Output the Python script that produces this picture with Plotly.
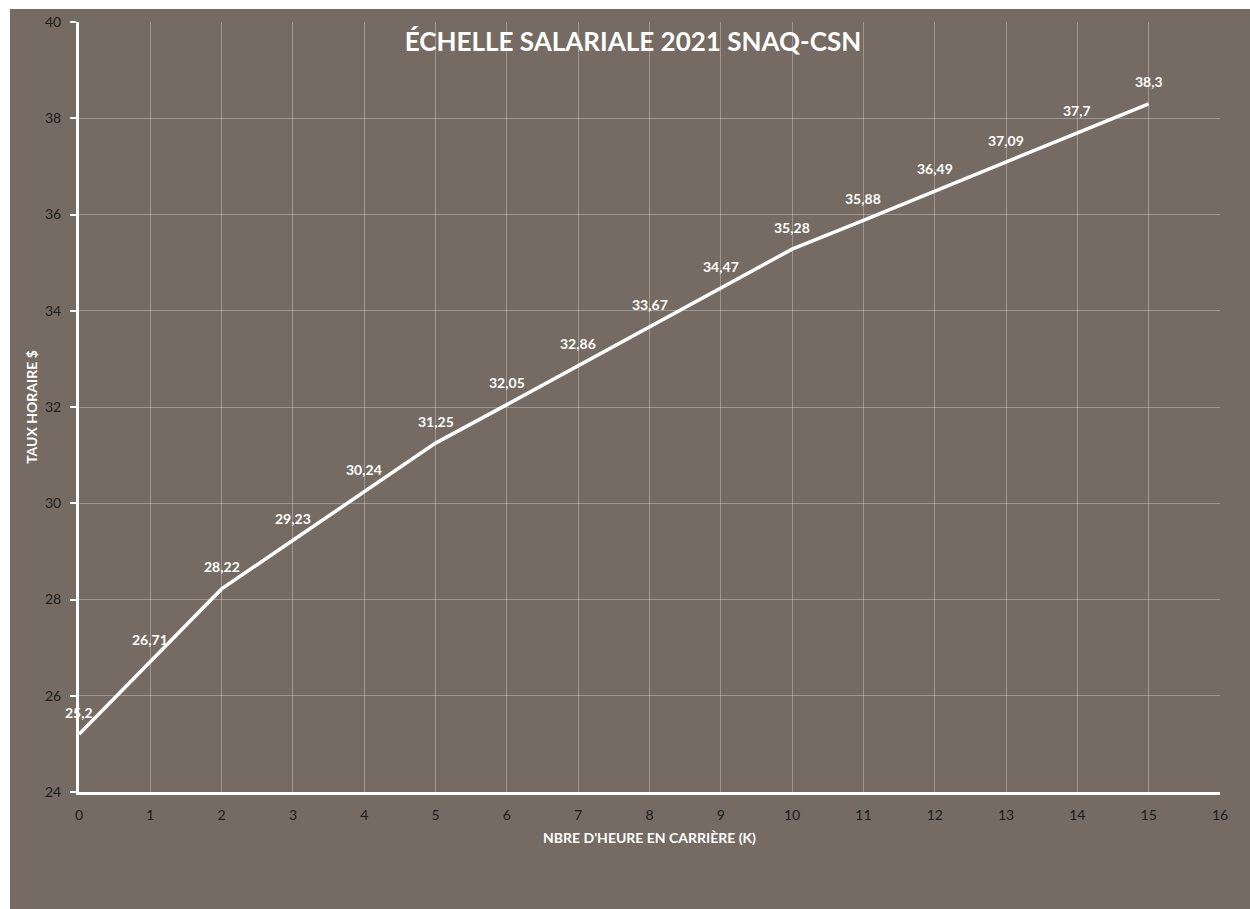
import plotly.graph_objects as go

heures = [0, 1, 2, 3, 4, 5, 6, 7, 8, 9, 10, 11, 12, 13, 14, 15]
taux = [25.2, 26.71, 28.22, 29.23, 30.24, 31.25, 32.05, 32.86, 33.67, 34.47,
        35.28, 35.88, 36.49, 37.09, 37.7, 38.3]
etiquettes = [str(v).replace('.', ',') for v in taux]

BG = "#756b62"
FONT = "Lato, Open Sans, sans-serif"
W, H = 1250, 909
L, R, T, B = 79, 30, 22, 117
pw, ph = W - L - R, H - T - B

fig = go.Figure()
fig.add_trace(go.Scatter(
    x=heures, y=taux, mode="lines",
    line=dict(color="white", width=3.5),
    showlegend=False, hoverinfo="x+y",
))

annotations = [
    dict(x=xv, y=yv, text="<b>" + t + "</b>", showarrow=False,
         xanchor="center", yanchor="middle", yshift=22,
         font=dict(family=FONT, size=14, color="white"))
    for xv, yv, t in zip(heures, taux, etiquettes)
]

fig.update_layout(
    width=W, height=H,
    margin=dict(l=L, r=R, t=T, b=B),
    paper_bgcolor=BG, plot_bgcolor=BG,
    annotations=annotations,
    title=dict(text="<b>ÉCHELLE SALARIALE 2021 SNAQ-CSN</b>",
               x=633 / W, xanchor="center",
               y=1 - 42 / H, yanchor="middle",
               font=dict(family=FONT, size=26, color="white")),
    xaxis=dict(range=[0, 16], dtick=1, tick0=0,
               showgrid=True, gridcolor="rgba(255,255,255,0.3)", gridwidth=1,
               showline=True, linecolor="white", linewidth=3,
               zeroline=False, ticks="", ticklen=0, ticklabelstandoff=8,
               tickfont=dict(family=FONT, size=14, color="#1c1c1c"),
               title=dict(text="<b>NBRE D'HEURE EN CARRIÈRE (K)</b>", standoff=12,
                          font=dict(family=FONT, size=14, color="white"))),
    yaxis=dict(range=[24, 40], dtick=2, tick0=24,
               showgrid=True, gridcolor="rgba(255,255,255,0.3)", gridwidth=1,
               showline=True, linecolor="white", linewidth=3,
               zeroline=False, ticks="outside", ticklen=6, tickcolor="white", tickwidth=2,
               ticklabelstandoff=6,
               tickfont=dict(family=FONT, size=14, color="#1c1c1c"),
               title=dict(text="<b>TAUX HORAIRE $</b>", standoff=5,
                          font=dict(family=FONT, size=14, color="white"))),
    shapes=[
        dict(type="rect", xref="paper", yref="paper",
             x0=-L / pw, x1=(-L + 10) / pw, y0=-B / ph, y1=1 + T / ph,
             fillcolor="white", line=dict(width=0), layer="below"),
        dict(type="rect", xref="paper", yref="paper",
             x0=-L / pw, x1=1 + R / pw, y0=1 + (T - 9) / ph, y1=1 + T / ph,
             fillcolor="white", line=dict(width=0), layer="below"),
    ],
)

fig.write_html("out.html")
